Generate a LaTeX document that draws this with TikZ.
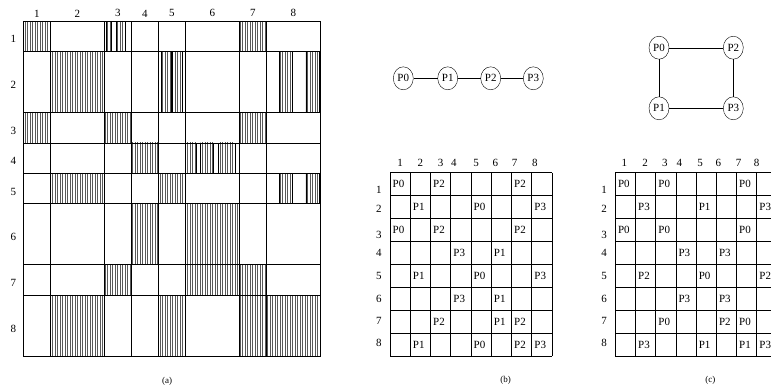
\documentclass[tikz,border=0pt]{standalone}
\usepackage{fontspec}
\setmainfont{Liberation Serif}
\usetikzlibrary{shapes.geometric,patterns.meta}
\begin{document}
\begin{tikzpicture}[x=1pt, y=-1pt,
    grid_line/.style={line width=0.6pt},
    block/.style={draw, line width=0.6pt, pattern={Lines[angle=90,distance=2.5pt,line width=0.5pt]}, pattern color=black!65},
    proc/.style={ellipse, draw, inner sep=0.5pt, minimum width=20pt, minimum height=23pt, font=\fontsize{11}{12}\selectfont},
    cell_text/.style={anchor=west, inner sep=2.5pt, font=\fontsize{11}{12}\selectfont},
    axis_num/.style={inner sep=0pt, font=\fontsize{11}{12}\selectfont},
    caption/.style={inner sep=0pt, font=\fontsize{9}{10}\selectfont}
]
\useasboundingbox (0,0) rectangle (771,391);
\clip (0,0) rectangle (771,391);

% (a) block matrix
\begin{scope}[shift={(23.3,21)}, x=27pt, y=-30.45pt]
  \foreach \xa/\ya/\xb/\yb in {0/0/1/1, 8/0/9/1, 3.09/0/3.27/1, 3.46/0/3.77/1,
      1/1/3/3, 5.1/1/5.47/3, 5.53/1/5.89/3, 9.48/1/9.98/3, 10.47/1/10.95/3,
      0/3/1/4, 3/3/4/4, 8/3/9/4,
      4/4/5/5, 6/4/6.39/5, 6.57/4/7.04/5, 7.22/4/7.84/5,
      1/5/3/6, 5/5/6/6, 9.48/5/9.98/6, 10.47/5/10.95/6,
      4/6/5/8, 6/6/8/8,
      3/8/4/9, 6/8/8/9, 8/8/9/9,
      1/9/3/11, 5/9/6/11, 8/9/9/11, 9/9/11/11}
    \path[block] (\xa,\ya) rectangle (\xb,\yb);
  \foreach \u in {0,1,3,4,5,6,8,9,11} {
    \draw[grid_line] (\u,0) -- (\u,11);
    \draw[grid_line] (0,\u) -- (11,\u);
  }
  \foreach \i/\m in {1/0.5, 2/2, 3/3.5, 4/4.5, 5/5.5, 6/7, 7/8.5, 8/10} {
    \node[axis_num] (a-col-\i) at (\m,-0.25) {\i};
    \node[axis_num] (a-row-\i) at (-0.37,\m+0.1) {\i};
  }
\end{scope}
\node[caption] (cap-a) at (167,381) {(a)};

% (b) linear array
\node[proc] (b0) at (403.3,78.3) {P0};
\node[proc] (b1) at (447.7,78.3) {P1};
\node[proc] (b2) at (490.7,78.3) {P2};
\node[proc] (b3) at (533.3,78.3) {P3};
\draw (b0) -- (b1) -- (b2) -- (b3);

\begin{scope}[shift={(390,172.7)}, x=20.25pt, y=-22.91pt]
  \foreach \k in {0,...,8} {
    \draw[grid_line] (\k,0) -- (\k,8);
    \draw[grid_line] (0,\k) -- (8,\k);
  }
  \foreach \i/\cx in {1/0.5, 2/1.5, 3/2.5, 4/3.15, 5/4.25, 6/5.2, 7/6.15, 8/7.15}
    \node[axis_num] (b-col-\i) at (\cx,-0.44) {\i};
  \foreach \i/\cy in {1/0.73, 2/1.56, 3/2.72, 4/3.5, 5/4.51, 6/5.49, 7/6.47, 8/7.45}
    \node[axis_num] (b-row-\i) at (-0.55,\cy) {\i};
  \foreach \r/\c/\p in {1/1/0, 1/3/2, 1/7/2, 2/2/1, 2/5/0, 2/8/3, 3/1/0, 3/3/2, 3/7/2,
      4/4/3, 4/6/1, 5/2/1, 5/5/0, 5/8/3, 6/4/3, 6/6/1, 7/3/2, 7/6/1, 7/7/2,
      8/2/1, 8/5/0, 8/7/2, 8/8/3}
    \node[cell_text] (b-\r-\c) at (\c-1,\r-0.5) {P\p};
\end{scope}
\node[caption] (cap-b) at (505.7,380) {(b)};

% (c) mesh
\node[proc] (c0) at (659,47.7) {P0};
\node[proc] (c2) at (733.3,47.7) {P2};
\node[proc] (c1) at (659,108.3) {P1};
\node[proc] (c3) at (733.3,108.3) {P3};
\draw (c0) -- (c2) -- (c3) -- (c1) -- (c0);

\begin{scope}[shift={(615.3,172.7)}, x=20.2pt, y=-22.91pt]
  \foreach \k in {0,...,8} {
    \draw[grid_line] (\k,0) -- (\k,8);
    \draw[grid_line] (0,\k) -- (8,\k);
  }
  \foreach \i/\cx in {1/0.45, 2/1.47, 3/2.46, 4/3.17, 5/4.2, 6/5.1, 7/6.1, 8/7.0}
    \node[axis_num] (c-col-\i) at (\cx,-0.44) {\i};
  \foreach \i/\cy in {1/0.73, 2/1.56, 3/2.72, 4/3.5, 5/4.51, 6/5.49, 7/6.47, 8/7.45}
    \node[axis_num] (c-row-\i) at (-0.55,\cy) {\i};
  \foreach \r/\c/\p in {1/1/0, 1/3/0, 1/7/0, 2/2/3, 2/5/1, 2/8/3, 3/1/0, 3/3/0, 3/7/0,
      4/4/3, 4/6/3, 5/2/2, 5/5/0, 5/8/2, 6/4/3, 6/6/3, 7/3/0, 7/6/2, 7/7/0,
      8/2/3, 8/5/1, 8/7/1, 8/8/3}
    \node[cell_text] (c-\r-\c) at (\c-1,\r-0.5) {P\p};
\end{scope}
\node[caption] (cap-c) at (710.3,380) {(c)};
\end{tikzpicture}
\end{document}
